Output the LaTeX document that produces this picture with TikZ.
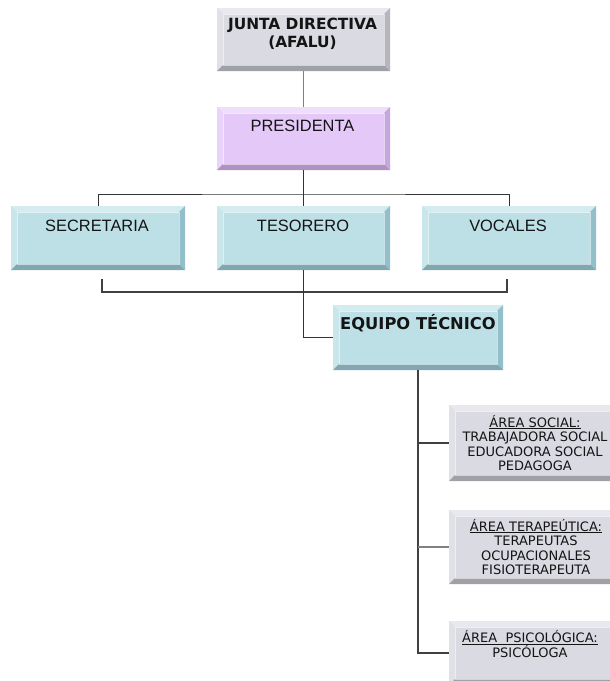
\documentclass[tikz,border=0pt]{standalone}
\usepackage{fontspec}
\newfontfamily\libsans{Liberation Sans}
\newfontfamily\dvsans{DejaVu Sans}
\definecolor{gface}{HTML}{DADAE2}
\definecolor{gtop}{HTML}{E8E8EE}
\definecolor{gleft}{HTML}{E0E0E7}
\definecolor{gdark}{HTML}{B6B6BE}
\definecolor{lface}{HTML}{E4C9F8}
\definecolor{ltop}{HTML}{EEDDFB}
\definecolor{lleft}{HTML}{E9D3FA}
\definecolor{ldark}{HTML}{C6A6DE}
\definecolor{bface}{HTML}{BDE0E6}
\definecolor{btop}{HTML}{D4ECF0}
\definecolor{bleft}{HTML}{C9E6EB}
\definecolor{bdark}{HTML}{92BFCA}
\definecolor{txt}{HTML}{141414}
\begin{document}
\begin{tikzpicture}[x=1pt,y=-1pt,
  bevelbox/.style n args={4}{draw=none, fill=#1, inner sep=0pt, outer sep=0pt,
    path picture={
      \fill[#2] (path picture bounding box.north west) -- (path picture bounding box.north east)
        -- ([shift={(-6pt,-6pt)}]path picture bounding box.north east)
        -- ([shift={(6pt,-6pt)}]path picture bounding box.north west) -- cycle;
      \fill[#3] (path picture bounding box.north west) -- ([shift={(6pt,-6pt)}]path picture bounding box.north west)
        -- ([shift={(6pt,6pt)}]path picture bounding box.south west)
        -- (path picture bounding box.south west) -- cycle;
      \fill[#4] (path picture bounding box.north east) -- (path picture bounding box.south east)
        -- ([shift={(-6pt,6pt)}]path picture bounding box.south east)
        -- ([shift={(-6pt,-6pt)}]path picture bounding box.north east) -- cycle;
      \fill[#4!88!black] (path picture bounding box.south west) -- (path picture bounding box.south east)
        -- ([shift={(-6pt,6pt)}]path picture bounding box.south east)
        -- ([shift={(6pt,6pt)}]path picture bounding box.south west) -- cycle;
      \draw[white, opacity=0.55, line width=0.7pt]
        ([shift={(6pt,-6pt)}]path picture bounding box.north west) rectangle
        ([shift={(-6pt,6pt)}]path picture bounding box.south east);
    }},
  graybox/.style={bevelbox={gface}{gtop}{gleft}{gdark}},
  lilacbox/.style={bevelbox={lface}{ltop}{lleft}{ldark}},
  bluebox/.style={bevelbox={bface}{btop}{bleft}{bdark}},
  bigtxt/.style={font=\libsans\fontsize{16.4}{19}\selectfont, text=txt, anchor=base, inner sep=0pt},
  boldtxt/.style={font=\dvsans\bfseries\fontsize{15.4}{18}\selectfont, text=txt, align=center, inner sep=0pt},
  areatxt/.style={font=\dvsans\fontsize{13}{14.6}\selectfont, text=txt, align=center, inner sep=0pt},
  conn/.style={draw=black!80, line width=1pt},
  lightconn/.style={draw=black!50, line width=1pt},
  thickconn/.style={draw=black!75, line width=1.6pt}
]
\useasboundingbox (0,0) rectangle (610,681);
\fill[white] (0,0) rectangle (610,681);

% boxes
\node[graybox, minimum width=173pt, minimum height=63pt] (junta) at (303.5,39.5) {};
\node[lilacbox, minimum width=173pt, minimum height=63pt] (pres) at (303.5,138.5) {};
\node[bluebox, minimum width=174pt, minimum height=64pt] (sec) at (98,238) {};
\node[bluebox, minimum width=173pt, minimum height=64pt] (tes) at (303.5,238) {};
\node[bluebox, minimum width=174pt, minimum height=64pt] (voc) at (509,238) {};
\node[bluebox, minimum width=170pt, minimum height=65pt] (eq) at (418,337.5) {};
\node[graybox, minimum width=171pt, minimum height=76pt] (soc) at (534.5,443) {};
\node[graybox, minimum width=171pt, minimum height=74pt] (ter) at (534.5,547) {};
\node[graybox, minimum width=171pt, minimum height=64pt] (psi) at (534.5,653) {};

% texts
\node[boldtxt] (juntat) at (302.5,33.5) {JUNTA DIRECTIVA\\(AFALU)};
\node[bigtxt] (prest) at (302.5,131) {PRESIDENTA};
\node[bigtxt] (sect) at (97,231) {SECRETARIA};
\node[bigtxt] (test) at (303,231) {TESORERO};
\node[bigtxt] (voct) at (508,231) {VOCALES};
\node[boldtxt, anchor=base, font=\dvsans\bfseries\fontsize{16.3}{18}\selectfont] (eqt) at (418,329) {EQUIPO TÉCNICO};
\node[areatxt] (soct) at (535,443) {\underline{ÁREA SOCIAL:}\\TRABAJADORA SOCIAL\\EDUCADORA SOCIAL\\PEDAGOGA};
\node[areatxt] (tert) at (536,547) {\underline{ÁREA TERAPEÚTICA:}\\TERAPEUTAS\\OCUPACIONALES\\FISIOTERAPEUTA};
\node[areatxt] (psit) at (530,644) {\underline{ÁREA\ \ PSICOLÓGICA:}\\PSICÓLOGA};

% connectors
\coordinate (bar) at (303.5,194);
\coordinate (bl0) at (102,279);
\coordinate (bl) at (102,292);
\coordinate (br) at (507,292);
\coordinate (br0) at (507,279);
\draw[lightconn] (junta.south) -- (pres.north);
\draw[conn] (pres.south) -- (tes.north);
\draw[conn] (sec.north) |- (bar) -| (voc.north);
\draw[thickconn] (bl0) -- (bl) -- (br) -- (br0);
\draw[conn] (tes.south) |- (eq.west);
\draw[thickconn] (eq.south) -- (eq.south |- psi.west) -- (psi.west);
\draw[thickconn] (eq.south |- soc.west) -- (soc.west);
\draw[lightconn, line width=1.6pt] (eq.south |- ter.west) -- (ter.west);
\end{tikzpicture}
\end{document}
